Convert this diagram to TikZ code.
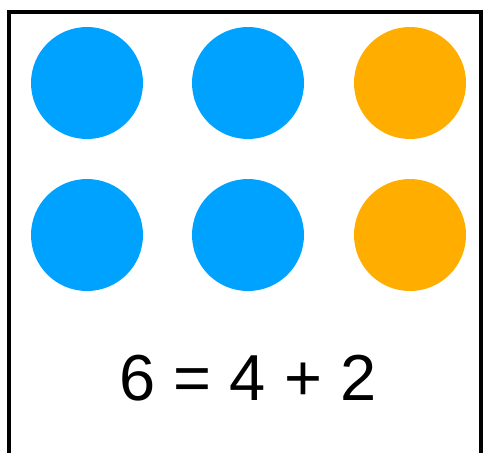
\documentclass[tikz,border=0pt]{standalone}
\usepackage{fontspec}
\setmainfont{Liberation Sans}
\usepackage{xcolor}
\usepackage{tikz}
\usetikzlibrary{positioning}
\definecolor{dotblue}{RGB}{0,162,255}
\definecolor{dotorange}{RGB}{255,174,0}

\begin{document}
\begin{tikzpicture}[x=1pt, y=-1pt,
  dot/.style={circle, fill=#1, draw=none, minimum width=110pt, minimum height=112pt, inner sep=0pt},
]
  \useasboundingbox (0,0) rectangle (484,452);
  \draw[line width=3.5pt] (9,12) rectangle (481,480);
  % top row
  \node[dot=dotblue] (a1) at (87,83) {};
  \node[dot=dotblue] (a2) at (248,83) {};
  \node[dot=dotorange] (a3) at (410,83) {};
  % bottom row
  \node[dot=dotblue] (b1) at (87,235) {};
  \node[dot=dotblue] (b2) at (248,235) {};
  \node[dot=dotorange] (b3) at (410,235) {};
  \node[font=\fontsize{65}{70}\selectfont, inner sep=0pt] (sum) at (248,378) {6 = 4 + 2};
\end{tikzpicture}
\end{document}
